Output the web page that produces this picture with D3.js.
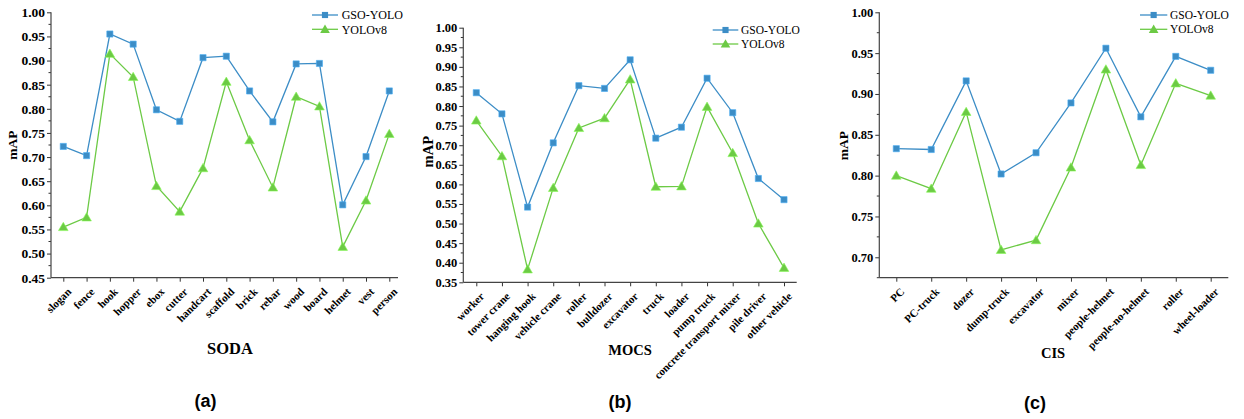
<!DOCTYPE html>
<html><head><meta charset="utf-8">
<script src="https://cdn.jsdelivr.net/npm/d3@7"></script>
<style>
body{margin:0;background:#fff;}
svg{display:block;}
.serif{font-family:"Liberation Serif","Times New Roman",Times,serif;}
.sans{font-family:"Liberation Sans",Arial,Helvetica,sans-serif;}
</style></head>
<body>
<svg id="chart" width="1244" height="419"></svg>
<script>
// ---------- DATA ----------
const seriesNames = ["GSO-YOLO", "YOLOv8"];

const sodaCategories = ["slogan","fence","hook","hopper","ebox","cutter","handcart","scaffold","brick","rebar","wood","board","helmet","vest","person"];
const sodaGSO    = [0.722,0.703,0.955,0.934,0.798,0.774,0.906,0.909,0.837,0.773,0.893,0.894,0.601,0.701,0.837];
const sodaYOLOv8 = [0.555,0.575,0.914,0.866,0.640,0.587,0.677,0.856,0.735,0.637,0.825,0.805,0.514,0.610,0.748];
const sodaTicks  = [0.45,0.50,0.55,0.60,0.65,0.70,0.75,0.80,0.85,0.90,0.95,1.00];

const mocsCategories = ["worker","tower crane","hanging hook","vehicle crane","roller","bulldozer","excavator","truck","loader","pump truck","concrete transport mixer","pile driver","other vehicle"];
const mocsGSO    = [0.834,0.780,0.542,0.706,0.852,0.845,0.918,0.718,0.746,0.871,0.783,0.615,0.561];
const mocsYOLOv8 = [0.763,0.672,0.383,0.591,0.744,0.769,0.868,0.594,0.595,0.798,0.680,0.500,0.387];
const mocsTicks  = [0.35,0.40,0.45,0.50,0.55,0.60,0.65,0.70,0.75,0.80,0.85,0.90,0.95,1.00];

const cisCategories = ["PC","PC-truck","dozer","dump-truck","excavator","mixer","people-helmet","people-no-helmet","roller","wheel-loader"];
const cisGSO    = [0.833,0.832,0.916,0.802,0.828,0.889,0.956,0.872,0.946,0.929];
const cisYOLOv8 = [0.800,0.784,0.878,0.709,0.721,0.810,0.930,0.813,0.913,0.898];
const cisTicks  = [0.70,0.75,0.80,0.85,0.90,0.95,1.00];

// ---------- STYLE / LAYOUT ----------
const BLUE = "#3c8dc6", GREEN = "#6cca45";
const svg = d3.select("#chart");

const panels = [
  {cats: sodaCategories, a: sodaGSO, b: sodaYOLOv8, ticks: sodaTicks, domain:[0.45,1.00],
   left:51, right:398, top:12.3, bottom:277.7, x0:63.3, x1:389.3, tickFont:13.5, catFont:11,
   yl:{x:12.5,y:145,size:13.5}, title:"SODA", tx:230, ty:354, tsize:16.5, cap:"(a)", cx:205.5, cy:407,
   leg:{x0:312,x1:338,tx:341.7,y:15,dy:14.3,size:12}},
  {cats: mocsCategories, a: mocsGSO, b: mocsYOLOv8, ticks: mocsTicks, domain:[0.35,1.00],
   left:463.3, right:796.7, top:27.7, bottom:282.3, x0:476.3, x1:784, tickFont:12.5, catFont:11,
   yl:{x:427.5,y:151.7,size:14.5}, title:"MOCS", tx:630, ty:355, tsize:14.5, cap:"(b)", cx:620, cy:408,
   leg:{x0:712.7,x1:738.3,tx:741,y:30,dy:14,size:11.5}},
  {cats: cisCategories, a: cisGSO, b: cisYOLOv8, ticks: cisTicks, domain:[0.675,1.00],
   left:879.3, right:1228.3, top:12.3, bottom:277.7, x0:896.3, x1:1210.7, tickFont:12.5, catFont:11,
   yl:{x:843,y:145.7,size:13.5}, title:"CIS", tx:1053, ty:358, tsize:14.5, cap:"(c)", cx:1035, cy:409,
   leg:{x0:1140,x1:1167.3,tx:1170,y:15,dy:14.3,size:11.5}}
];

panels.forEach(p => {
  const y = d3.scaleLinear().domain(p.domain).range([p.bottom, p.top]);
  const x = d3.scalePoint().domain(p.cats).range([p.x0, p.x1]);
  const g = svg.append("g");

  const step = p.ticks[1] - p.ticks[0];
  const minors = [];
  for (let i = 0; i < p.ticks.length - 1; i++) minors.push(p.ticks[i] + step / 2);
  if (p.domain[0] < p.ticks[0] - 1e-9) minors.push(p.ticks[0] - step / 2);

  // y axis
  const yAxis = d3.axisLeft(y).tickValues(p.ticks).tickFormat(d3.format(".2f")).tickSize(4).tickPadding(2);
  const ya = g.append("g").attr("transform", `translate(${p.left},0)`).call(yAxis);
  ya.attr("font-family", null).attr("font-size", null);
  ya.select(".domain").remove();
  ya.selectAll("line").attr("stroke", "#333").attr("stroke-width", 1);
  ya.selectAll("text").attr("class", "serif").attr("font-weight", "bold")
    .attr("font-size", p.tickFont).attr("fill", "#000");
  g.append("g").attr("transform", `translate(${p.left},0)`)
    .selectAll("line").data(minors).join("line")
    .attr("x1", -2.5).attr("x2", 0).attr("y1", d => y(d)).attr("y2", d => y(d))
    .attr("stroke", "#333").attr("stroke-width", 1);
  g.append("line").attr("x1", p.left).attr("x2", p.left).attr("y1", p.top).attr("y2", p.bottom)
    .attr("stroke", "#444").attr("stroke-width", 1.2);

  // x axis
  const xAxis = d3.axisBottom(x).tickSize(4).tickFormat("");
  const xa = g.append("g").attr("transform", `translate(0,${p.bottom})`).call(xAxis);
  xa.select(".domain").remove();
  xa.selectAll("line").attr("stroke", "#333").attr("stroke-width", 1);
  g.append("line").attr("x1", p.left).attr("x2", p.right).attr("y1", p.bottom).attr("y2", p.bottom)
    .attr("stroke", "#444").attr("stroke-width", 1.2);
  g.selectAll(".cat").data(p.cats).join("text").attr("class", "serif")
    .attr("transform", d => `translate(${x(d) + 6},${p.bottom + 12}) rotate(-45)`)
    .attr("text-anchor", "end").attr("dy", "0.35em")
    .attr("font-weight", "bold").attr("font-size", p.catFont)
    .text(d => d);

  // labels
  g.append("text").attr("class", "serif").attr("transform", `translate(${p.yl.x},${p.yl.y}) rotate(-90)`)
    .attr("text-anchor", "middle").attr("dy", "0.35em")
    .attr("font-weight", "bold").attr("font-size", p.yl.size).text("mAP");
  g.append("text").attr("class", "serif").attr("x", p.tx).attr("y", p.ty).attr("text-anchor", "middle")
    .attr("font-weight", "bold").attr("font-size", p.tsize).text(p.title);
  g.append("text").attr("class", "sans").attr("x", p.cx).attr("y", p.cy).attr("text-anchor", "middle")
    .attr("font-weight", "bold").attr("font-size", 18).text(p.cap);

  // series
  const line = d3.line().x((d, i) => x(p.cats[i])).y(d => y(d));
  const defs = [{vals: p.a, color: BLUE, sym: d3.symbolSquare, size: 38},
                {vals: p.b, color: GREEN, sym: d3.symbolTriangle, size: 40}];
  defs.forEach(s => {
    g.append("path").datum(s.vals).attr("d", line).attr("fill", "none")
      .attr("stroke", s.color).attr("stroke-width", 1.3);
  });
  defs.forEach(s => {
    g.selectAll(null).data(s.vals).join("path")
      .attr("transform", (d, i) => `translate(${x(p.cats[i])},${y(d) + (s.sym === d3.symbolTriangle ? 0.8 : 0)})`)
      .attr("d", d3.symbol().type(s.sym).size(s.size))
      .attr("fill", s.color).attr("stroke", d3.color(s.color).brighter(0.6)).attr("stroke-width", 0.6);
  });

  // legend
  defs.forEach((s, i) => {
    const ly = p.leg.y + i * p.leg.dy;
    g.append("line").attr("x1", p.leg.x0).attr("x2", p.leg.x1).attr("y1", ly).attr("y2", ly)
      .attr("stroke", s.color).attr("stroke-width", 1.3);
    g.append("path").attr("transform", `translate(${(p.leg.x0 + p.leg.x1) / 2},${ly + (i ? 0.8 : 0)})`)
      .attr("d", d3.symbol().type(s.sym).size(s.size)).attr("fill", s.color);
    g.append("text").attr("class", "serif").attr("x", p.leg.tx).attr("y", ly).attr("dy", "0.35em")
      .attr("font-size", p.leg.size).text(seriesNames[i]);
  });
});
</script>
</body></html>
